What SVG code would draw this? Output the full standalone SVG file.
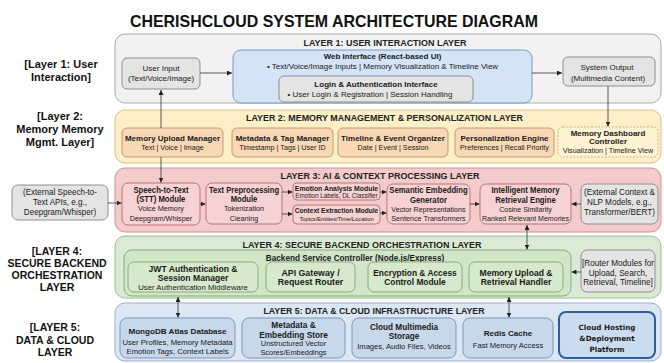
<svg xmlns="http://www.w3.org/2000/svg" width="664" height="363" viewBox="0 0 664 363">
<style>
text{font-family:"Liberation Sans",Arial,sans-serif;fill:#1a1a1a;text-anchor:middle}
.b{font-weight:bold}
.ttl{font-size:16.5px;font-weight:bold;fill:#111}
.lt{font-size:9.5px;font-weight:bold;fill:#222}
.side{font-size:11px;font-weight:bold;fill:#111}
.side2{font-size:10.5px;font-weight:bold;fill:#111}
.l1{fill:#f2f2f2;stroke:#a8a8a8}
.l2{fill:#fdf0c9;stroke:#d8c07c}
.l3{fill:#f4cbcb;stroke:#cf9393}
.l4{fill:#dbead4;stroke:#9cc093}
.l5{fill:#dce7f4;stroke:#97afcf}
.gray{fill:#e4e4e4;stroke:#8f8f8f}
.web{fill:#d4e3f6;stroke:#7b9bc8}
.mem{fill:#f9d8b6;stroke:#c59a6e}
.dash{fill:#fdf3d3;stroke:#c9b67c;stroke-dasharray:2 1.5}
.ai{fill:#f6d2d2;stroke:#b97575}
.ctl{fill:#d2e5c9;stroke:#86ad7d}
.be{fill:#d6e9cd;stroke:#86ad7d}
.db{fill:#c8d8eb;stroke:#7a97bd}
.host{fill:#ccdcf0;stroke:#2f5e9c;stroke-width:2}
.dv{font-family:"DejaVu Sans",sans-serif}
.wire{fill:none;stroke:#333;stroke-width:0.8}
</style>
<defs>
<marker id="ah" viewBox="0 0 6 6" refX="6" refY="3" markerWidth="5" markerHeight="5" markerUnits="userSpaceOnUse" orient="auto-start-reverse">
<path d="M0,0 L6,3 L0,6 z" fill="#222"/>
</marker>
</defs>
<rect width="664" height="363" fill="#fff"/>

<text class="ttl" x="334" y="27" textLength="408" lengthAdjust="spacingAndGlyphs">CHERISHCLOUD SYSTEM ARCHITECTURE DIAGRAM</text>

<!-- side captions -->
<g id="side-labels">
<text class="side" x="61" y="68">[Layer 1: User</text>
<text class="side" x="61" y="81">Interaction]</text>
<text class="side" x="60" y="120">[Layer 2:</text>
<text class="side" x="60" y="133">Memory Memory</text>
<text class="side" x="60" y="146">Mgmt. Layer]</text>
<text class="side2" x="57" y="254.5">[LAYER 4:</text>
<text class="side2" x="57" y="267">SECURE BACKEND</text>
<text class="side2" x="57" y="279">ORCHESTRATION</text>
<text class="side2" x="57" y="290.5">LAYER</text>
<text class="side2" x="55" y="330.5">[LAYER 5:</text>
<text class="side2" x="55" y="344">DATA &amp; CLOUD</text>
<text class="side2" x="55" y="355.5">LAYER</text>
</g>

<!-- layer panels -->
<g id="layer1">
<rect class="l1" x="115" y="34" width="546" height="69" rx="10"/>
<text class="lt" x="385" y="45.5" textLength="163" lengthAdjust="spacingAndGlyphs">LAYER 1: USER INTERACTION LAYER</text>
</g>
<g id="layer2">
<rect class="l2" x="115" y="110" width="546" height="53" rx="10"/>
<text class="lt" x="384.5" y="120.5" textLength="277" lengthAdjust="spacingAndGlyphs">LAYER 2: MEMORY MANAGEMENT &amp; PERSONALIZATION LAYER</text>
</g>
<g id="layer3">
<rect class="l3" x="115" y="168" width="546" height="64" rx="10"/>
<text class="lt" x="380" y="178.5" textLength="199" lengthAdjust="spacingAndGlyphs">LAYER 3: AI &amp; CONTEXT PROCESSING LAYER</text>
</g>
<g id="layer4">
<rect class="l4" x="115" y="236" width="546" height="62" rx="10"/>
<text class="lt" x="362" y="247.5" textLength="239" lengthAdjust="spacingAndGlyphs">LAYER 4: SECURE BACKEND ORCHESTRATION LAYER</text>
</g>
<g id="layer5">
<rect class="l5" x="115" y="303" width="546" height="58" rx="10"/>
<text class="lt" x="374" y="313.5" textLength="221" lengthAdjust="spacingAndGlyphs">LAYER 5: DATA &amp; CLOUD INFRASTRUCTURE LAYER</text>
</g>

<!-- layer 1 nodes -->
<g id="user-input">
<rect class="gray" x="122" y="58" width="78" height="31" rx="5"/>
<text x="161" y="71" font-size="8">User Input</text>
<text x="161" y="81" font-size="8">(Text/Voice/Image)</text>
</g>
<g id="web-interface">
<rect class="web" x="233" y="50" width="299" height="53" rx="8"/>
<text class="b" x="382.5" y="59" font-size="8">Web Interface (React-based UI)</text>
<text x="382.5" y="68.5" font-size="8">• Text/Voice/Image Inputs | Memory Visualization &amp; Timeline View</text>
</g>
<g id="login-interface">
<rect class="gray" x="279" y="76" width="194" height="26" rx="5"/>
<text class="b" x="376" y="87" font-size="8">Login &amp; Authentication Interface</text>
<text x="370" y="96.5" font-size="8">• User Login &amp; Registration | Session Handling</text>
</g>
<g id="system-output">
<rect class="gray" x="563" y="57" width="92" height="29" rx="5"/>
<text x="607" y="70" font-size="8">System Output</text>
<text x="608" y="80.5" font-size="8">(Multimedia Content)</text>
</g>

<!-- layer 2 nodes -->
<g id="memory-upload-manager">
<rect class="mem" x="122" y="128" width="101" height="29" rx="5"/>
<text class="b" x="172.5" y="140.5" font-size="8">Memory Upload Manager</text>
<text x="172.5" y="150" font-size="7.2">Text | Voice | Image</text>
</g>
<g id="metadata-tag-manager">
<rect class="mem" x="232" y="128" width="101" height="29" rx="5"/>
<text class="b" x="282.5" y="140.5" font-size="8">Metadata &amp; Tag Manager</text>
<text x="282.5" y="150" font-size="7.2">Timestamp | Tags | User ID</text>
</g>
<g id="timeline-organizer">
<rect class="mem" x="338" y="128" width="110" height="29" rx="5"/>
<text class="b" x="393" y="140.5" font-size="8">Timeline &amp; Event Organizer</text>
<text x="393" y="150" font-size="7.2">Date | Event | Session</text>
</g>
<g id="personalization-engine">
<rect class="mem" x="455" y="128" width="99" height="29" rx="5"/>
<text class="b" x="504.5" y="140.5" font-size="8">Personalization Engine</text>
<text x="504.5" y="150" font-size="7.2">Preferences | Recall Priority</text>
</g>
<g id="memory-dashboard">
<rect class="dash" x="558" y="127" width="100" height="30" rx="5"/>
<text class="b" x="608" y="135.5" font-size="8">Memory Dashboard</text>
<text class="b" x="608" y="144.2" font-size="8">Controller</text>
<text x="608" y="153" font-size="7.2">Visualization | Timeline View</text>
</g>

<!-- layer 3 nodes (captions set in a slightly narrowed face) -->
<g id="external-stt">
<rect class="gray" x="12" y="185" width="96" height="35" rx="6"/>
<g transform="matrix(0.93 0 0 1 4.2 0)">
<text x="60" y="195.5" font-size="8.7">(External Speech-to-</text>
<text x="60" y="205.2" font-size="8.7">Text APIs, e.g.,</text>
<text x="60" y="214.9" font-size="8.7">Deepgram/Whisper)</text>
</g>
</g>
<g id="stt-module">
<rect class="ai" x="122" y="183" width="78" height="42" rx="6"/>
<g transform="matrix(0.93 0 0 1 11.27 0)">
<text class="b" x="161" y="193" font-size="8.3">Speech-to-Text</text>
<text class="b" x="161" y="202.3" font-size="8.3">(STT) Module</text>
<text x="161" y="211.5" font-size="7.8">Voice Memory</text>
<text x="161" y="220.6" font-size="7.8">Deepgram/Whisper</text>
</g>
</g>
<g id="text-preprocessing">
<rect class="ai" x="206" y="183" width="76" height="41" rx="6"/>
<g transform="matrix(0.93 0 0 1 17.08 0)">
<text class="b" x="244" y="193" font-size="8.2">Text Preprocessing</text>
<text class="b" x="244" y="202.3" font-size="8.2">Module</text>
<text x="244" y="211.5" font-size="7.8">Tokenization</text>
<text x="244" y="220.6" font-size="7.8">Cleaning</text>
</g>
</g>
<g id="emotion-analysis">
<rect class="ai" x="293" y="183" width="87" height="17" rx="4"/>
<g transform="matrix(0.93 0 0 1 23.555 0)">
<text class="b" x="336.5" y="190.6" font-size="7.4">Emotion Analysis Module</text>
<text x="336.5" y="198" font-size="6.8">Emotion Labels, DL Classifier</text>
</g>
</g>
<g id="context-extraction">
<rect class="ai" x="293" y="205" width="87" height="19" rx="4"/>
<g transform="matrix(0.93 0 0 1 23.555 0)">
<text class="b" x="336.5" y="213" font-size="7.1">Context Extraction Module</text>
<text x="336.5" y="221" font-size="6.2">Topics/Entities/Time/Location</text>
</g>
</g>
<g id="semantic-embedding">
<rect class="ai" x="387" y="184" width="83" height="40" rx="6"/>
<g transform="matrix(0.93 0 0 1 29.995 0)">
<text class="b" x="428.5" y="193.5" font-size="8.3">Semantic Embedding</text>
<text class="b" x="428.5" y="202.8" font-size="8.3">Generator</text>
<text x="428.5" y="212" font-size="7.7">Vector Representations</text>
<text x="428.5" y="220.8" font-size="7.7">Sentence Transformers</text>
</g>
</g>
<g id="memory-retrieval-engine">
<rect class="ai" x="480" y="184" width="91" height="40" rx="6"/>
<g transform="matrix(0.93 0 0 1 36.785 0)">
<text class="b" x="525.5" y="193.5" font-size="8.3">Intelligent Memory</text>
<text class="b" x="525.5" y="202.8" font-size="8.3">Retrieval Engine</text>
<text x="525.5" y="212" font-size="7.6">Cosine Similarity</text>
<text x="525.5" y="220.8" font-size="7.6">Ranked Relevant Memories</text>
</g>
</g>
<g id="external-nlp">
<rect class="gray" x="581" y="184" width="77" height="40" rx="6"/>
<g transform="matrix(0.93 0 0 1 43.365 0)">
<text x="619.5" y="195" font-size="8.8">(External Context &amp;</text>
<text x="619.5" y="204.8" font-size="8.8">NLP Models, e.g.,</text>
<text x="619.5" y="214.6" font-size="8.8">Transformer/BERT)</text>
</g>
</g>

<!-- layer 4 nodes -->
<g id="backend-controller">
<rect class="ctl" x="124" y="250" width="447" height="46" rx="8"/>
<text class="b" x="355" y="261" font-size="8.2">Backend Service Controller (Node.js/Express)</text>
</g>
<g id="jwt-auth">
<rect class="be" x="128" y="262" width="130" height="30" rx="6"/>
<text class="b" x="193" y="272" font-size="8.6">JWT Authentication &amp;</text>
<text class="b" x="193" y="281" font-size="8.6">Session Manager</text>
<text x="193" y="290" font-size="7.8">User Authentication Middleware</text>
</g>
<g id="api-gateway">
<rect class="be" x="266" y="262" width="89" height="30" rx="6"/>
<text class="b" x="310.5" y="275.5" font-size="8.8">API Gateway /</text>
<text class="b" x="310.5" y="284.5" font-size="8.8">Request Router</text>
</g>
<g id="encryption-access">
<rect class="be" x="368" y="262" width="94" height="30" rx="6"/>
<text class="b" x="415" y="275.5" font-size="8.4">Encryption &amp; Access</text>
<text class="b" x="415" y="284.5" font-size="8.4">Control Module</text>
</g>
<g id="upload-retrieval-handler">
<rect class="be" x="469" y="262" width="94" height="30" rx="6"/>
<text class="b" x="516" y="275.5" font-size="8.6">Memory Upload &amp;</text>
<text class="b" x="516" y="284.5" font-size="8.6">Retrieval Handler</text>
</g>
<g id="router-modules">
<rect class="gray" x="581" y="250" width="74" height="42" rx="6"/>
<text x="618" y="266" font-size="8.2">[Router Modules for</text>
<text x="618" y="275.5" font-size="8.2">Upload, Search,</text>
<text x="618" y="284.5" font-size="8.2">Retrieval, Timeline]</text>
</g>

<!-- layer 5 nodes -->
<g id="mongodb">
<rect class="db" x="120" y="318" width="115" height="40" rx="7"/>
<text class="b" x="177.5" y="333.5" font-size="8.1">MongoDB Atlas Database</text>
<text x="177.5" y="345" font-size="7.7">User Profiles, Memory Metadata</text>
<text x="177.5" y="354" font-size="7.7">Emotion Tags, Context Labels</text>
</g>
<g id="embedding-store">
<rect class="db" x="242" y="318" width="103" height="40" rx="7"/>
<text class="b" x="293.5" y="327.5" font-size="8.3">Metadata &amp;</text>
<text class="b" x="293.5" y="337.5" font-size="8.3">Embedding Store</text>
<text x="293.5" y="346" font-size="7.4">Unstructured Vector</text>
<text x="293.5" y="354.5" font-size="7.4">Scores/Embeddings</text>
</g>
<g id="multimedia-storage">
<rect class="db" x="352" y="318" width="104" height="40" rx="7"/>
<text class="b" x="404" y="329.5" font-size="8.2">Cloud Multimedia</text>
<text class="b" x="404" y="338.5" font-size="8.2">Storage</text>
<text x="404" y="348.5" font-size="7.6">Images, Audio Files, Videos</text>
</g>
<g id="redis-cache">
<rect class="db" x="463" y="318" width="90" height="40" rx="7"/>
<text class="b" x="508" y="335.5" font-size="8.1">Redis Cache</text>
<text x="508" y="347.5" font-size="7.6">Fast Memory Access</text>
</g>
<g id="cloud-hosting">
<rect class="host" x="559" y="312" width="96" height="46" rx="7"/>
<text class="b dv" x="607" y="329.5" font-size="7.2">Cloud Hosting</text>
<text class="b dv" x="607" y="340.5" font-size="7.2">&amp;Deployment</text>
<text class="b dv" x="607" y="352" font-size="7.2">Platform</text>
</g>

<!-- connectors -->
<g id="connectors" class="wire" marker-end="url(#ah)">
<line x1="200" y1="73" x2="232" y2="73"/>
<line x1="532" y1="73" x2="562" y2="73"/>
<line x1="161" y1="128" x2="161" y2="90"/>
<line x1="608" y1="86" x2="608" y2="126.5"/>
<line x1="161" y1="157" x2="161" y2="182.5"/>
<line x1="108" y1="203" x2="121.5" y2="203"/>
<line x1="200" y1="204" x2="205.5" y2="204"/>
<line x1="282" y1="192" x2="292.5" y2="192"/>
<line x1="282" y1="214" x2="292.5" y2="214"/>
<line x1="380" y1="192" x2="386.5" y2="192"/>
<line x1="380" y1="213" x2="386.5" y2="213"/>
<line x1="470" y1="204" x2="479.5" y2="204"/>
<line x1="581" y1="204" x2="571.5" y2="204"/>
<line x1="527" y1="225" x2="527" y2="249.5" marker-start="url(#ah)"/>
<line x1="581" y1="272" x2="571.5" y2="272"/>
<line x1="178" y1="297" x2="178" y2="317.5" marker-start="url(#ah)"/>
<line x1="509" y1="297" x2="509" y2="317.5" marker-start="url(#ah)"/>
</g>
</svg>
